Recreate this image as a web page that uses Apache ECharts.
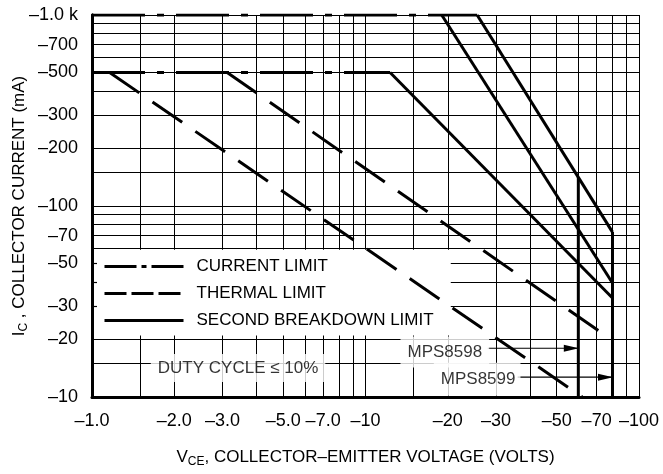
<!DOCTYPE html>
<html><head><meta charset="utf-8">
<script src="https://cdn.jsdelivr.net/npm/echarts@6/dist/echarts.min.js"></script>
<style>html,body{margin:0;padding:0;background:#fff}#c{width:663px;height:474px}</style>
</head><body><div id="c"></div><script>
// ---- data ----
const xTickValues = [1, 2, 3, 5, 7, 10, 20, 30, 50, 70, 100];
const xTickLabels = ['–1.0','–2.0','–3.0','–5.0','–7.0','–10','–20','–30','–50','–70','–100'];
const yTickValues = [10, 20, 30, 50, 70, 100, 200, 300, 500, 700, 1000];
const yTickLabels = ['–10','–20','–30','–50','–70','–100','–200','–300','–500','–700','–1.0 k'];
const xGridValues = [1, 1.5, 2, 3, 4, 5, 6, 7, 8, 9, 10, 15, 20, 30, 40, 50, 60, 70, 80, 90, 100];
const yGridValues = [10, 15, 20, 30, 40, 50, 60, 70, 80, 90, 100, 150, 200, 300, 400, 500, 600, 700, 800, 900, 1000];
const currentLimitPulse = [[1, 1000], [25.6, 1000]];
const currentLimitDC = [[1, 500], [12.3, 500]];
const thermalLimitDC = [[1.16, 500], [62, 10]];
const thermalLimitPulse = [[3.12, 500], [78, 20.3]];
const breakdownDC = [[12.3, 500], [80, 33]];
const breakdownA = [[19, 1000], [80, 39.5]];
const breakdownB = [[25.6, 1000], [80, 73]];
const mps8598Limit = [[60, 142], [60, 10]];
const mps8599Limit = [[80, 73], [80, 10]];
const arrow8598 = [[28, 18], [60, 18]];
const arrow8599 = [[36, 12.7], [80, 12.7]];
const legendNames = ['CURRENT LIMIT', 'THERMAL LIMIT', 'SECOND BREAKDOWN LIMIT'];
const noteTexts = ['DUTY CYCLE ≤ 10%', 'MPS8598', 'MPS8599'];

// ---- styles ----
const FONT = '"Liberation Sans", Arial, Helvetica, sans-serif';
const BIG = 17;
const thick = 3;

function lbl(values, labels) {
  return v => {
    for (let i = 0; i < values.length; i++) if (Math.abs(values[i] - v) < 1e-6 * values[i]) return labels[i];
    return '';
  };
}

const chart = echarts.init(document.getElementById('c'), null, {renderer: 'canvas'});
const lineSeries = (name, data, type) => ({
  type: 'line', name, data, symbol: 'none', z: 3, silent: true, animation: false,
  itemStyle: {color: '#000'},
  lineStyle: {color: '#000', width: thick, type: type || 'solid', cap: 'butt'}
});
const arrowHead = 'path://M0,0 L15,3.5 L0,7 Z';
const arrowSeries = (d) => ({
  type: 'line', name: 'arrow', z: 3, silent: true, animation: false,
  lineStyle: {color: '#000', width: 1.2},
  itemStyle: {color: '#000'},
  showSymbol: true,
  data: [
    {value: d[0], symbol: 'none'},
    {value: d[1], symbol: arrowHead, symbolSize: [15, 7], symbolOffset: [-7, 0]}
  ]
});
const richName = {
  t: {fontSize: BIG, fontFamily: FONT, color: '#000'},
  s: {fontSize: 12, fontFamily: FONT, color: '#000', padding: [9, 0, 0, 0]}
};

chart.setOption({
  animation: false,
  backgroundColor: '#fff',
  textStyle: {fontFamily: FONT, color: '#000'},
  grid: {left: 92, right: 24, top: 15, bottom: 77, containLabel: false, outerBoundsMode: 'none'},
  xAxis: {
    type: 'log', logBase: 10, min: 1, max: 100, z: 0,
    axisLine: {show: true, onZero: false, lineStyle: {color: '#000', width: thick}},
    axisTick: {show: false, customValues: xGridValues},
    splitLine: {show: true, lineStyle: {color: '#000', width: 1}},
    minorTick: {show: false}, minorSplitLine: {show: false},
    axisLabel: {customValues: xTickValues, formatter: lbl(xTickValues, xTickLabels), color: '#000',
      fontSize: 18, fontFamily: FONT, margin: 15},
    name: '{t|V}{s|CE}{t|, COLLECTOR–EMITTER VOLTAGE (VOLTS)}',
    nameLocation: 'middle', nameGap: 50,
    nameTextStyle: {color: '#000', fontFamily: FONT, fontSize: BIG, rich: richName}
  },
  yAxis: [{
    type: 'log', logBase: 10, min: 10, max: 1000, z: 0,
    axisLine: {show: true, onZero: false, lineStyle: {color: '#000', width: thick}},
    axisTick: {show: false, customValues: yGridValues},
    splitLine: {show: true, lineStyle: {color: '#000', width: 1}},
    minorTick: {show: false}, minorSplitLine: {show: false},
    axisLabel: {customValues: yTickValues, formatter: lbl(yTickValues, yTickLabels), color: '#000',
      fontSize: 18, fontFamily: FONT, margin: 14, padding: [6, 0, 0, 0]},
    name: '{t|I}{s|C}{t| , COLLECTOR CURRENT (mA)}',
    nameLocation: 'middle', nameGap: 62, nameRotate: 90, nameMoveOverlap: false,
    nameTextStyle: {color: '#000', fontFamily: FONT, fontSize: BIG, rich: richName}
  }, {
    type: 'log', logBase: 10, min: 10, max: 1000, z: 4, position: 'left',
    axisLine: {show: true, onZero: false, lineStyle: {color: '#000', width: thick}},
    axisTick: {show: true, inside: true, length: 5, customValues: [30, 40, 50], lineStyle: {color: '#000', width: 1.2}},
    axisLabel: {show: false}, splitLine: {show: false}
  }],
  legend: {
    orient: 'vertical', left: 103, top: 258, padding: 0, itemGap: 10,
    itemWidth: 79, itemHeight: 16, selectedMode: false, z: 5,
    itemStyle: {color: 'rgba(0,0,0,0)', opacity: 0, borderWidth: 0},
    textStyle: {color: '#000', fontSize: BIG, fontFamily: FONT, padding: [0, 0, 0, 8]},
    data: [
      {name: legendNames[0], lineStyle: {type: [32, 5, 5, 5], width: thick}},
      {name: legendNames[1], lineStyle: {type: [22, 5], width: thick}},
      {name: legendNames[2], lineStyle: {type: 'solid', width: thick}}
    ]
  },
  series: [
    Object.assign(lineSeries(legendNames[0], currentLimitPulse, [53, 12, 7, 12]), {
      markArea: {silent: true, z: 1, itemStyle: {color: '#fff', opacity: 1},
        data: [[{coord: [1.012, 59]}, {coord: [20.5, 21]}]]}
    }),
    lineSeries(legendNames[0], currentLimitDC, [53, 12, 7, 12]),
    lineSeries(legendNames[1], thermalLimitDC, [36, 16]),
    lineSeries(legendNames[1], thermalLimitPulse, [36, 16]),
    lineSeries(legendNames[2], breakdownDC),
    lineSeries(legendNames[2], breakdownA),
    lineSeries(legendNames[2], breakdownB),
    lineSeries(legendNames[2], mps8598Limit),
    lineSeries(legendNames[2], mps8599Limit),
    arrowSeries(arrow8598),
    arrowSeries(arrow8599),
    {
      type: 'scatter', name: 'notes', symbolSize: 0, z: 4, silent: true, animation: false,
      itemStyle: {color: 'rgba(0,0,0,0)'},
      label: {show: true, position: 'inside', color: '#000', fontFamily: FONT, fontSize: BIG,
        backgroundColor: '#fff', formatter: p => noteTexts[p.dataIndex]},
      data: [
        {value: [3.42, 14.2], label: {padding: [6, 7, 5, 7]}},
        {value: [19.5, 17.2], label: {padding: [7, 7, 7, 7]}},
        {value: [25.6, 12.4], label: {padding: [8, 5, 8, 7]}}
      ]
    }
  ]
});
</script></body></html>
